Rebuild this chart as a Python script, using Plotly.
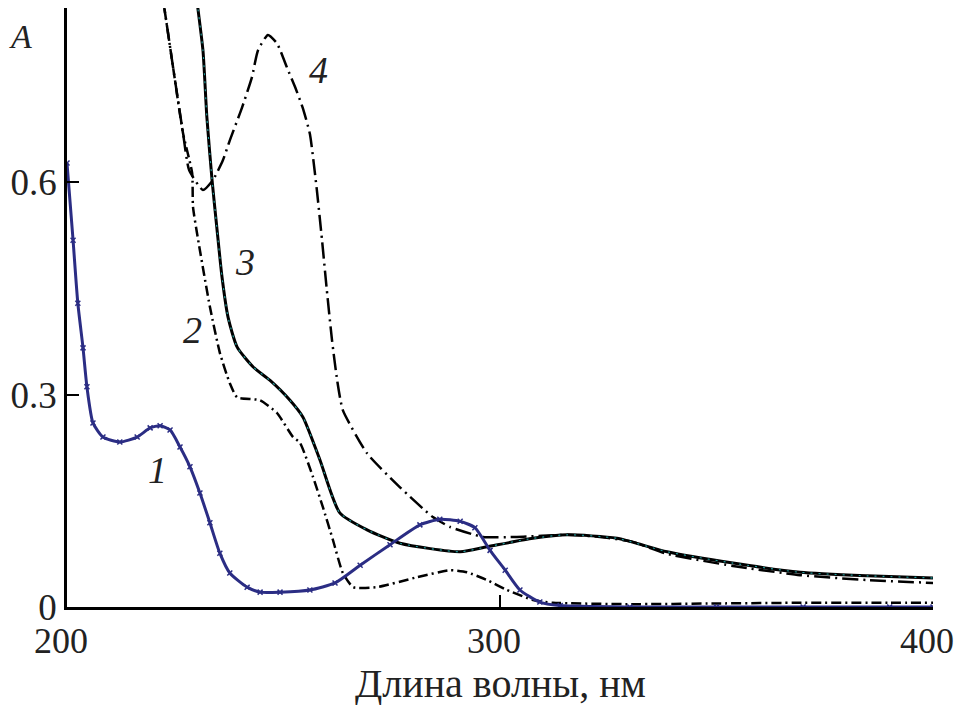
import plotly.graph_objects as go

# Curve 1
wl1 = [200.0, 201.4, 202.5, 203.7, 204.6, 206.0, 208.3, 212.2, 216.2, 219.2, 221.5, 223.8,
       226.1, 228.4, 230.7, 233.0, 235.3, 237.6, 241.6, 244.6, 249.2, 256.1, 261.9, 267.7,
       274.6, 281.5, 286.1, 290.8, 294.2, 297.7, 301.2, 304.6, 309.2, 313.9, 330, 350, 370, 390, 400]
a1 = [0.627, 0.518, 0.429, 0.366, 0.311, 0.260, 0.240, 0.233, 0.240, 0.253, 0.256, 0.250,
      0.226, 0.198, 0.161, 0.119, 0.076, 0.048, 0.028, 0.021, 0.021, 0.024, 0.034, 0.059,
      0.088, 0.116, 0.124, 0.121, 0.112, 0.080, 0.052, 0.024, 0.007, 0.002, 0.0, 0.0, 0.0, 0.0, 0.0]

# Curve 2
wl2 = [221.0, 222.2, 224.5, 226.8, 228.9, 229.1, 230.3, 233.0, 235.3, 237.6, 239.3, 244.6,
       248.5, 252.2, 253.8, 256.8, 259.1, 261.4, 263.7, 266.1, 271.6, 280.8, 288.5, 292.4,
       297.0, 301.6, 307.6, 312.2, 330, 350, 370, 390, 400]
a2 = [0.90, 0.857, 0.762, 0.669, 0.613, 0.565, 0.518, 0.424, 0.359, 0.316, 0.296, 0.292,
      0.274, 0.240, 0.232, 0.184, 0.141, 0.095, 0.048, 0.028, 0.028, 0.042, 0.052, 0.049,
      0.038, 0.024, 0.010, 0.006, 0.004, 0.005, 0.006, 0.006, 0.006]

# Curve 3
wl3 = [229.3, 230.0, 231.4, 232.3, 233.5, 234.6, 235.8, 237.2, 239.3, 243.0, 246.9, 251.5,
       254.5, 258.4, 263.0, 269.3, 276.9, 290.8, 297.0, 307.6, 315.5, 327.0, 338.6, 353.8,
       369.3, 384.8, 400.0]
a3 = [0.90, 0.857, 0.786, 0.692, 0.603, 0.536, 0.466, 0.409, 0.367, 0.339, 0.320, 0.292,
      0.268, 0.208, 0.133, 0.109, 0.090, 0.078, 0.085, 0.097, 0.102, 0.097, 0.078, 0.062,
      0.049, 0.044, 0.041]

# Curve 4
wl4 = [221.0, 222.2, 224.5, 226.8, 228.2, 231.4, 233.7, 236.0, 237.6, 240.4, 242.7,
       244.1, 246.4, 248.5, 250.8, 252.7, 254.5, 256.1, 257.7, 258.9, 260.0, 261.2,
       262.4, 263.7, 269.3, 276.9, 284.5, 288.5, 296.1, 303.9, 315.5, 323.1, 330.7, 338.6,
       353.8, 369.3, 384.8, 400.0]
a4 = [0.90, 0.857, 0.762, 0.669, 0.617, 0.589, 0.603, 0.631, 0.659, 0.705, 0.748,
      0.786, 0.808, 0.796, 0.762, 0.734, 0.704, 0.668, 0.589, 0.518, 0.448, 0.377,
      0.320, 0.278, 0.217, 0.169, 0.127, 0.113, 0.099, 0.099, 0.102, 0.099, 0.092, 0.075,
      0.058, 0.045, 0.038, 0.034]

x_ticks = [200, 300, 400]
y_ticks = [0, 0.3, 0.6]
y_tick_text = ["0", "0.3", "0.6"]
curve_labels = ["1", "2", "3", "4"]
label_x = [221.0, 228.9, 241.1, 258.0]
label_y = [0.193, 0.391, 0.487, 0.758]
x_title = "Длина волны, нм"
y_title = "A"

FONT = "Liberation Serif"
fig = go.Figure()

fig.add_trace(go.Scatter(x=wl2, y=a2, mode="lines",
                         line=dict(color="black", width=2.5, dash="10px,4px,2px,4px",
                                   shape="spline", smoothing=0.5), showlegend=False))
fig.add_trace(go.Scatter(x=wl4, y=a4, mode="lines",
                         line=dict(color="black", width=2.5, dash="16px,5px,2px,5px",
                                   shape="spline", smoothing=0.5), showlegend=False))
fig.add_trace(go.Scatter(x=wl3, y=a3, mode="lines",
                         line=dict(color="black", width=3, shape="spline", smoothing=0.6),
                         showlegend=False))
fig.add_trace(go.Scatter(x=wl3, y=a3, mode="lines",
                         line=dict(color="#1f9a9a", width=1.2, dash="2px,6px",
                                   shape="spline", smoothing=0.6), showlegend=False))
fig.add_trace(go.Scatter(x=wl1, y=a1, mode="lines+markers",
                         line=dict(color="#2b2d84", width=3, shape="spline", smoothing=0.6),
                         marker=dict(symbol="x-thin", size=5, color="#2b2d84",
                                     line=dict(width=1.5, color="#2b2d84")),
                         showlegend=False))

for t, lx, ly in zip(curve_labels, label_x, label_y):
    fig.add_annotation(x=lx, y=ly, text="<i>" + t + "</i>", showarrow=False,
                       font=dict(family=FONT, size=38, color="#222"))

fig.add_annotation(xref="paper", yref="paper", x=-0.054, y=0.952, xanchor="center",
                   yanchor="middle", text="<i>" + y_title + "</i>", showarrow=False,
                   font=dict(family=FONT, size=34, color="#222"))
fig.add_annotation(xref="paper", yref="paper", x=0.5, y=-0.128, xanchor="center",
                   yanchor="middle", text=x_title, showarrow=False,
                   font=dict(family=FONT, size=40, color="#222"))

fig.update_xaxes(range=[200, 400], tickvals=x_ticks, ticks="inside", ticklen=12,
                 tickwidth=2, tickcolor="black", showline=True, linecolor="black",
                 linewidth=2.5, showgrid=False, zeroline=False, automargin=False,
                 ticklabelshift=-6,
                 tickfont=dict(family=FONT, size=36, color="#222"))
fig.update_yaxes(range=[0, 0.846], tickvals=y_ticks, ticktext=y_tick_text, ticks="inside",
                 ticklen=12, tickwidth=2, tickcolor="black", showline=True, linecolor="black",
                 linewidth=2.5, showgrid=False, zeroline=False, ticklabelstandoff=0,
                 automargin=False,
                 tickfont=dict(family=FONT, size=37, color="#222"))

fig.update_layout(width=955, height=697, margin=dict(l=59, r=30, t=0, b=98),
                  plot_bgcolor="white", paper_bgcolor="white")

fig.write_html("out.html")
